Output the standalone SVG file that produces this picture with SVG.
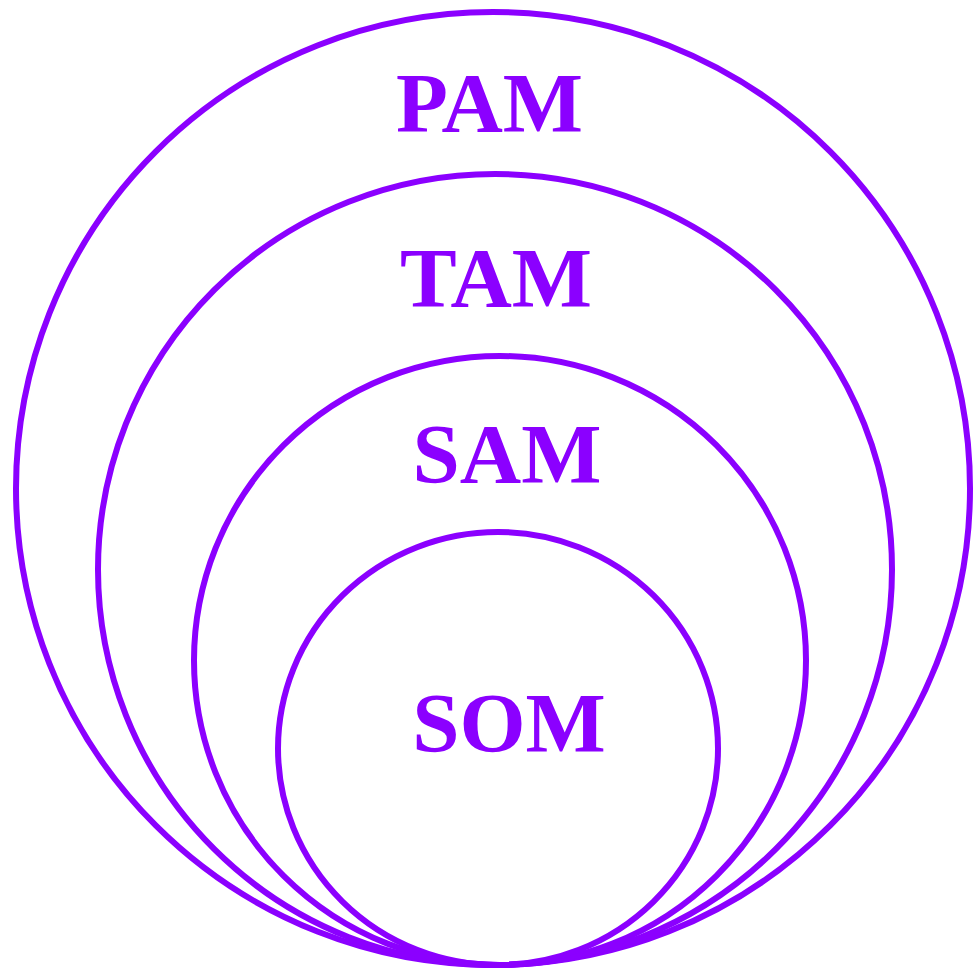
<svg xmlns="http://www.w3.org/2000/svg" width="974" height="972" viewBox="0 0 974 972">
<style>
.ring{fill:none;stroke:#8B00FF;stroke-width:6}
.lbl{font-family:"Liberation Serif","Times New Roman",serif;font-weight:bold;font-size:85px;fill:#8B00FF;text-anchor:middle}
</style>
<rect width="974" height="972" fill="#ffffff"/>
<g id="PAM"><ellipse class="ring" cx="493" cy="488.5" rx="477" ry="476.5"/><text class="lbl" x="489.5" y="132">PAM</text></g>
<g id="TAM"><ellipse class="ring" cx="495" cy="569.5" rx="397" ry="395.5"/><text class="lbl" x="496" y="307">TAM</text></g>
<g id="SAM"><ellipse class="ring" cx="500" cy="660.5" rx="306" ry="304.5"/><text class="lbl" x="507" y="483">SAM</text></g>
<g id="SOM"><ellipse class="ring" cx="498" cy="748.5" rx="220" ry="216.5"/><text class="lbl" x="509" y="752">SOM</text></g>
</svg>
